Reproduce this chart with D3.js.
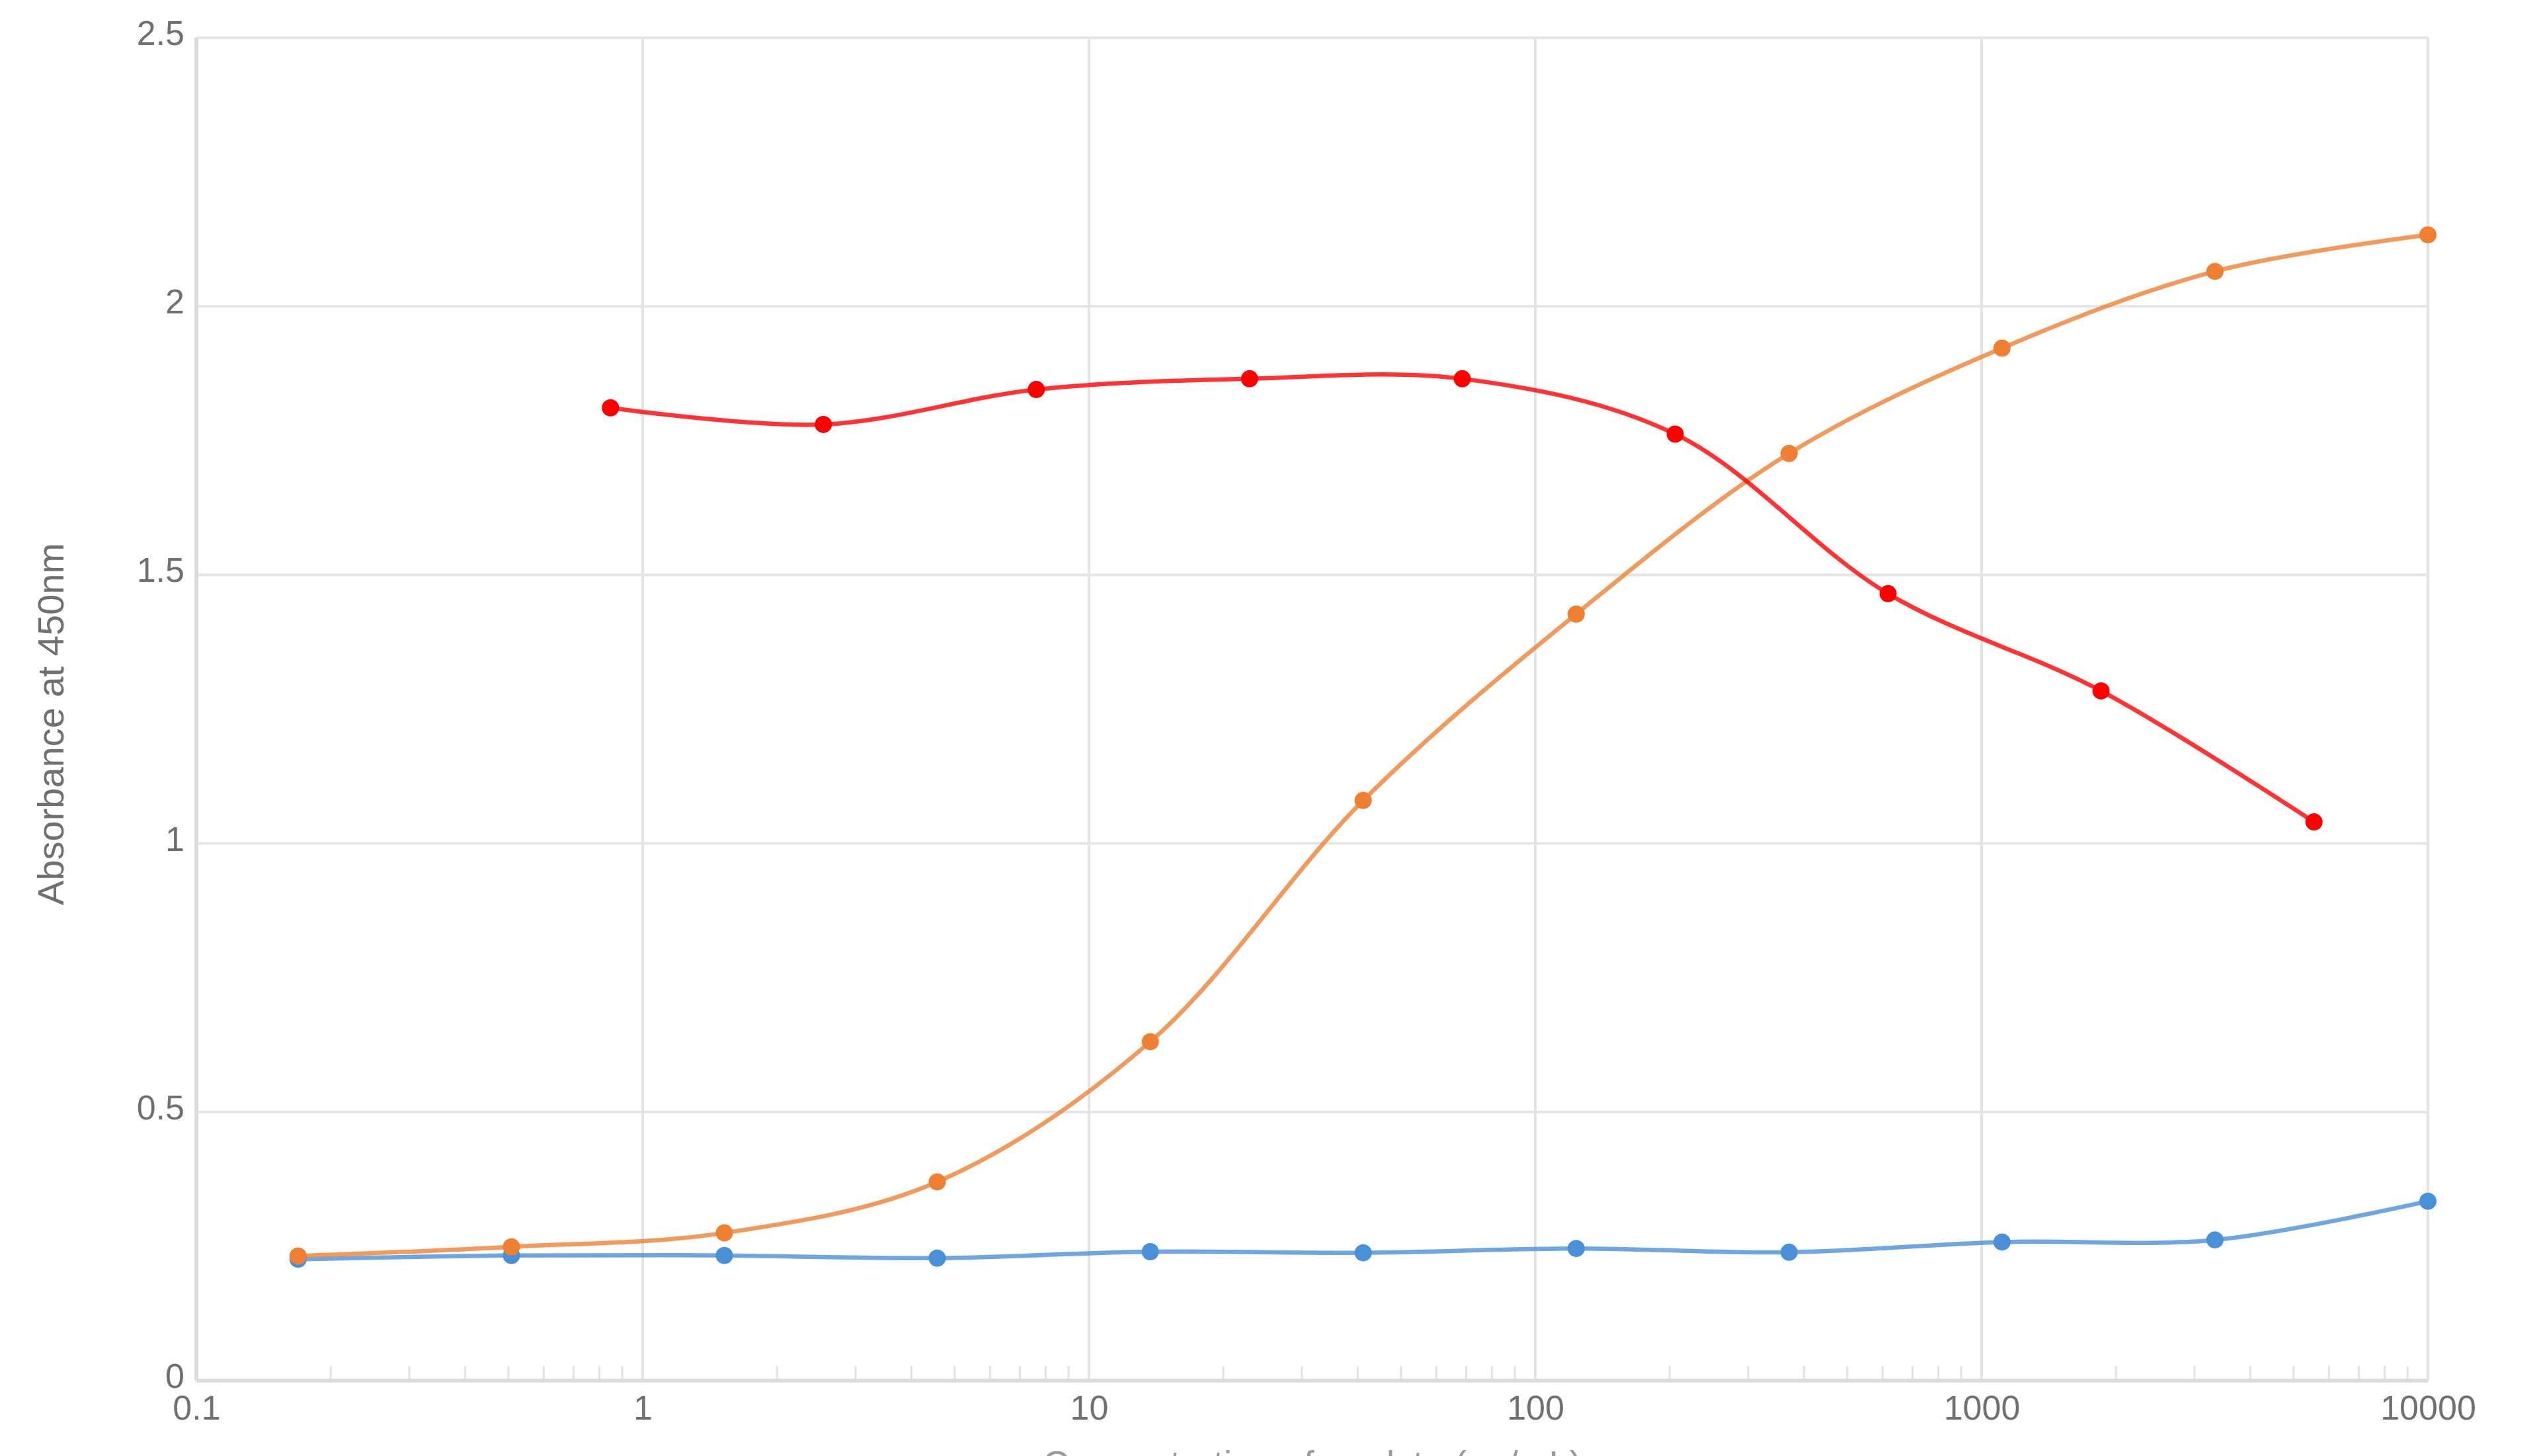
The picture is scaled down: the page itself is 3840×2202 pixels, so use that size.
<!DOCTYPE html>
<html>
<head>
<meta charset="utf-8">
<script src="https://cdn.jsdelivr.net/npm/d3@7"></script>
<style>
  html, body { margin: 0; padding: 0; background: #ffffff; }
  svg { display: block; }
</style>
</head>
<body>
<svg id="chart" width="3840" height="2202"></svg>
<script>
// ---------------- data ----------------
const blueX   = [0.169, 0.508, 1.524, 4.57, 13.72, 41.15, 123.5, 370.4, 1111, 3333, 10000];
const blueY   = [0.226, 0.233, 0.233, 0.228, 0.240, 0.238, 0.246, 0.239, 0.258, 0.262, 0.334];

const orangeX = [0.169, 0.508, 1.524, 4.57, 13.72, 41.15, 123.5, 370.4, 1111, 3333, 10000];
const orangeY = [0.232, 0.249, 0.275, 0.370, 0.631, 1.080, 1.427, 1.726, 1.922, 2.065, 2.133];

const redX    = [0.847, 2.54, 7.62, 22.9, 68.6, 205.8, 617.3, 1852, 5556];
const redY    = [1.811, 1.780, 1.845, 1.865, 1.865, 1.762, 1.465, 1.284, 1.040];

const xTickValues = [0.1, 1, 10, 100, 1000, 10000];
const xTickLabels = ["0.1", "1", "10", "100", "1000", "10000"];
const yTickValues = [0, 0.5, 1, 1.5, 2, 2.5];
const yTickLabels = ["0", "0.5", "1", "1.5", "2", "2.5"];

const yTitle = "Absorbance at 450nm";
const xTitle = "Concentration of analyte (pg/mL)";

// ---------------- layout ----------------
(function () {
const svg = d3.select("#chart");
const pLeft = 297, pRight = 3672, pTop = 57, pBottom = 2088;

const x = d3.scaleLog().domain([0.1, 10000]).range([pLeft, pRight]);
const y = d3.scaleLinear().domain([0, 2.5]).range([pBottom, pTop]);

const gridColor = "#e4e4e4";
const axisColor = "#dcdcdc";
const textColor = "#707070";
const fontFamily = "'Liberation Sans', Arial, sans-serif";

// horizontal gridlines
svg.append("g")
  .selectAll("line")
  .data(yTickValues.filter(v => v > 0))
  .join("line")
  .attr("x1", pLeft).attr("x2", pRight)
  .attr("y1", d => y(d)).attr("y2", d => y(d))
  .attr("stroke", gridColor).attr("stroke-width", 4);

// vertical gridlines
svg.append("g")
  .selectAll("line")
  .data(xTickValues.filter(v => v > 0.1))
  .join("line")
  .attr("x1", d => x(d)).attr("x2", d => x(d))
  .attr("y1", pTop).attr("y2", pBottom)
  .attr("stroke", gridColor).attr("stroke-width", 4);

// minor ticks on x axis (log minor ticks)
const minor = [];
for (let i = 0; i < xTickValues.length - 1; i++) {
  for (let m = 2; m <= 9; m++) minor.push(xTickValues[i] * m);
}
svg.append("g")
  .selectAll("line")
  .data(minor)
  .join("line")
  .attr("x1", d => x(d)).attr("x2", d => x(d))
  .attr("y1", pBottom).attr("y2", pBottom - 22)
  .attr("stroke", "#e2e2e2").attr("stroke-width", 3);

// axis lines
svg.append("line")
  .attr("x1", pLeft).attr("x2", pRight).attr("y1", pBottom).attr("y2", pBottom)
  .attr("stroke", axisColor).attr("stroke-width", 6);
svg.append("line")
  .attr("x1", pLeft).attr("x2", pLeft).attr("y1", pTop).attr("y2", pBottom)
  .attr("stroke", axisColor).attr("stroke-width", 6);

// x axis labels (via d3 axis)
const xAxis = d3.axisBottom(x)
  .tickValues(xTickValues)
  .tickFormat((d, i) => xTickLabels[i])
  .tickSize(0).tickPadding(22);
const gx = svg.append("g").attr("transform", `translate(0,${pBottom})`).call(xAxis);
gx.select(".domain").remove();
gx.selectAll("text")
  .attr("fill", textColor)
  .style("font-family", fontFamily)
  .style("font-size", "52px");

// y axis labels
const yAxis = d3.axisLeft(y)
  .tickValues(yTickValues)
  .tickFormat((d, i) => yTickLabels[i])
  .tickSize(0).tickPadding(18);
const gy = svg.append("g").attr("transform", `translate(${pLeft},0)`).call(yAxis);
gy.select(".domain").remove();
gy.selectAll("text")
  .attr("fill", textColor)
  .attr("dy", "0.2em")
  .style("font-family", fontFamily)
  .style("font-size", "52px");

// axis titles
svg.append("text")
  .attr("transform", `translate(96,1095) rotate(-90)`)
  .attr("text-anchor", "middle")
  .attr("fill", textColor)
  .style("font-family", fontFamily)
  .style("font-size", "56px")
  .text(yTitle);

svg.append("text")
  .attr("x", (pLeft + pRight) / 2)
  .attr("y", 2233)
  .attr("text-anchor", "middle")
  .attr("fill", "#9a9a9a")
  .style("font-family", fontFamily)
  .style("font-size", "56px")
  .text(xTitle);

// ---------------- series ----------------
const series = [
  { xs: blueX,   ys: blueY,   color: "#4a90d9" },
  { xs: orangeX, ys: orangeY, color: "#ef7f33" },
  { xs: redX,    ys: redY,    color: "#ff0000" }
];

const line = d3.line()
  .x(d => x(d[0]))
  .y(d => y(d[1]))
  .curve(d3.curveCatmullRom.alpha(0.5));

series.forEach(s => {
  const pts = s.xs.map((v, i) => [v, s.ys[i]]);
  svg.append("path")
    .datum(pts)
    .attr("d", line)
    .attr("fill", "none")
    .attr("stroke", s.color)
    .attr("stroke-opacity", 0.8)
    .attr("stroke-width", 6.5);
  svg.append("g")
    .selectAll("circle")
    .data(pts)
    .join("circle")
    .attr("cx", d => x(d[0]))
    .attr("cy", d => y(d[1]))
    .attr("r", 13)
    .attr("fill", s.color);
});
})();
</script>
</body>
</html>
